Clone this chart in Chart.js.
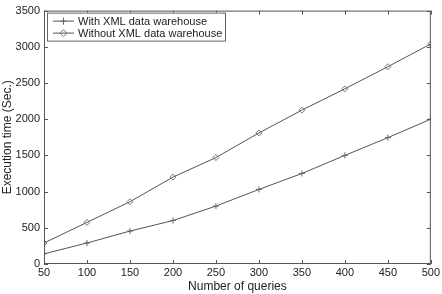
<!DOCTYPE html>
<html lang="en">
<head>
    <meta charset="UTF-8">
    <title>Execution time</title>
    <script src="https://cdn.jsdelivr.net/npm/chart.js"></script>
    <style>
        html, body { margin: 0; padding: 0; background: #fff; }
        #wrap { width: 442px; height: 294px; }
    </style>
</head>
<body>
<div id="wrap"><canvas id="timeChart" width="442" height="294"></canvas></div>
<script>
    const queries = [50, 100, 150, 200, 250, 300, 350, 400, 450, 500];
    const withXml = [140, 290, 455, 600, 800, 1030, 1250, 1500, 1745, 2000];
    const withoutXml = [290, 575, 860, 1200, 1470, 1810, 2125, 2420, 2725, 3040];
    const seriesNames = ['With XML data warehouse', 'Without XML data warehouse'];
    const xTicks = [50, 100, 150, 200, 250, 300, 350, 400, 450, 500];
    const yTicks = [0, 500, 1000, 1500, 2000, 2500, 3000, 3500];

    const font = 'Liberation Sans, Arial, sans-serif';
    const ink = '#222';

    // matlab-like box, inward ticks and legend inside the plot
    const boxPlugin = {
        id: 'box',
        afterDraw(chart) {
            const ctx = chart.ctx;
            const a = chart.chartArea;
            const xs = chart.scales.x, ys = chart.scales.y;
            ctx.save();
            ctx.strokeStyle = '#555';
            ctx.lineWidth = 1;
            ctx.strokeRect(a.left + 0.5, a.top + 0.5, a.right - a.left - 1, a.bottom - a.top - 1);
            ctx.beginPath();
            xTicks.forEach(v => {
                const px = Math.round(xs.getPixelForValue(v)) + 0.5;
                ctx.moveTo(px, a.bottom); ctx.lineTo(px, a.bottom - 4);
                ctx.moveTo(px, a.top); ctx.lineTo(px, a.top + 4);
            });
            yTicks.forEach(v => {
                const py = Math.round(ys.getPixelForValue(v)) + 0.5;
                ctx.moveTo(a.left, py); ctx.lineTo(a.left + 4, py);
                ctx.moveTo(a.right, py); ctx.lineTo(a.right - 4, py);
            });
            ctx.stroke();

            // legend
            const lx = a.left + 3, ly = a.top + 2, lw = 178, lh = 28;
            ctx.fillStyle = '#fff';
            ctx.fillRect(lx, ly, lw, lh);
            ctx.strokeStyle = '#666';
            ctx.strokeRect(lx + 0.5, ly + 0.5, lw, lh);
            ctx.font = '11px ' + font;
            ctx.textBaseline = 'middle';
            chart.data.datasets.forEach((ds, i) => {
                const cy = ly + 8 + i * 12;
                ctx.strokeStyle = ds.borderColor;
                ctx.beginPath();
                ctx.moveTo(lx + 6, cy + 0.5); ctx.lineTo(lx + 27, cy + 0.5);
                ctx.stroke();
                const mx = lx + 16.5;
                ctx.strokeStyle = ds.pointBorderColor;
                ctx.beginPath();
                if (i === 0) {
                    ctx.moveTo(mx - 3, cy + 0.5); ctx.lineTo(mx + 3, cy + 0.5);
                    ctx.moveTo(mx, cy - 3); ctx.lineTo(mx, cy + 4);
                } else {
                    ctx.moveTo(mx, cy - 3); ctx.lineTo(mx + 3.5, cy + 0.5);
                    ctx.lineTo(mx, cy + 4); ctx.lineTo(mx - 3.5, cy + 0.5); ctx.closePath();
                }
                ctx.stroke();
                ctx.fillStyle = ink;
                ctx.fillText(ds.label, lx + 31, cy + 1);
            });
            ctx.restore();
        }
    };

    new Chart(document.getElementById('timeChart'), {
        type: 'line',
        data: {
            datasets: [{
                label: seriesNames[0],
                data: queries.map((q, i) => ({ x: q, y: withXml[i] })),
                borderColor: '#555',
                pointBorderColor: '#666',
                pointBackgroundColor: 'transparent',
                pointStyle: 'cross',
                pointRadius: 3,
                borderWidth: 1,
                pointBorderWidth: 1,
                tension: 0
            }, {
                label: seriesNames[1],
                data: queries.map((q, i) => ({ x: q, y: withoutXml[i] })),
                borderColor: '#555',
                pointBorderColor: '#777',
                pointBackgroundColor: 'transparent',
                pointStyle: 'rectRot',
                pointRadius: 3,
                borderWidth: 1,
                pointBorderWidth: 1,
                tension: 0
            }]
        },
        options: {
            responsive: false,
            animation: false,
            devicePixelRatio: 1,
            layout: { padding: { top: 5, right: 9, left: 0, bottom: 0 } },
            plugins: { legend: { display: false }, tooltip: { enabled: false } },
            scales: {
                x: {
                    type: 'linear',
                    min: 50, max: 500,
                    afterBuildTicks: s => { s.ticks = xTicks.map(v => ({ value: v })); },
                    afterFit: s => { s.height = 30; },
                    grid: { display: false, drawTicks: false },
                    border: { display: false },
                    ticks: { color: ink, font: { family: font, size: 11 }, padding: 2, maxRotation: 0, callback: v => String(v) },
                    title: { display: true, text: 'Number of queries', color: ink, font: { family: font, size: 12 }, padding: 0 }
                },
                y: {
                    min: 0, max: 3500,
                    afterBuildTicks: s => { s.ticks = yTicks.map(v => ({ value: v })); },
                    afterFit: s => { s.width = 44; },
                    grid: { display: false, drawTicks: false },
                    border: { display: false },
                    ticks: { color: ink, font: { family: font, size: 11 }, padding: 4, callback: v => String(v) },
                    title: { display: true, text: 'Execution time (Sec.)', color: ink, font: { family: font, size: 12 }, padding: 0 }
                }
            }
        },
        plugins: [boxPlugin]
    });
</script>
</body>
</html>
